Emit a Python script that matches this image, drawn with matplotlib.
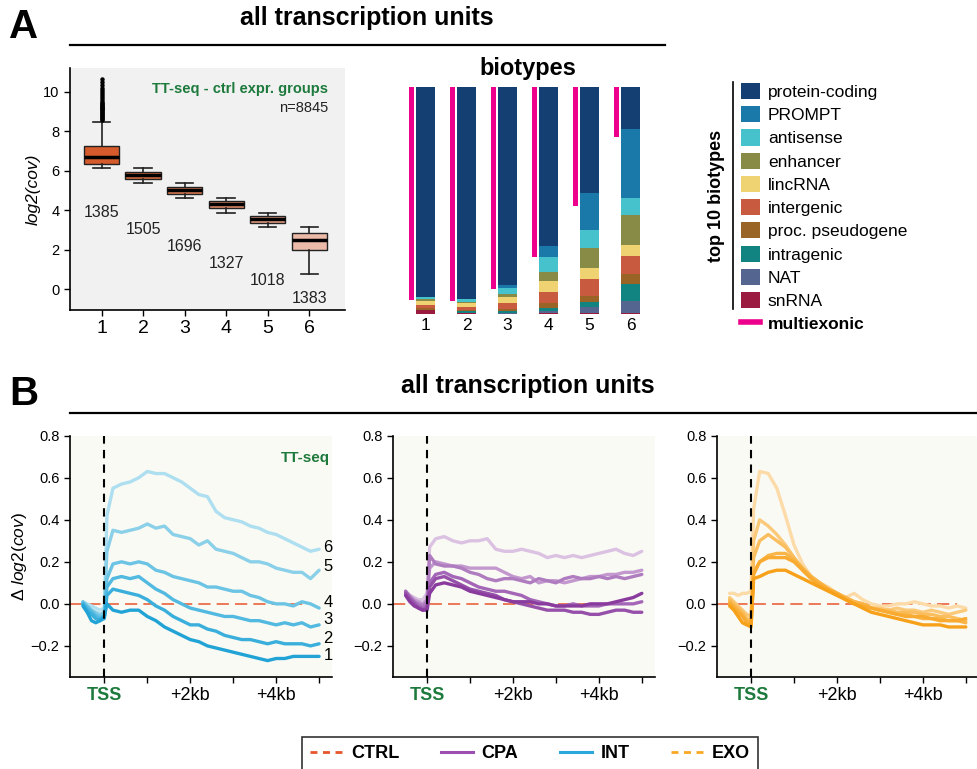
import matplotlib
matplotlib.use("Agg")
import matplotlib.pyplot as plt
from matplotlib.lines import Line2D
from matplotlib.patches import Patch

plt.rcParams['font.family'] = ['Liberation Sans', 'DejaVu Sans']
plt.rcParams['mathtext.fontset'] = 'custom'
plt.rcParams['mathtext.rm'] = 'Liberation Sans'
plt.rcParams['mathtext.it'] = 'Liberation Sans:italic'

# ---------------- data: panel A boxplot ----------------
groups = [1, 2, 3, 4, 5, 6]
group_n = [1385, 1505, 1696, 1327, 1018, 1383]
box_q1 = [6.36, 5.58, 4.81, 4.10, 3.34, 2.01]
box_med = [6.71, 5.77, 5.01, 4.30, 3.54, 2.50]
box_q3 = [7.25, 5.92, 5.19, 4.49, 3.73, 2.83]
box_lo = [6.12, 5.38, 4.64, 3.86, 3.14, 0.79]
box_hi = [8.48, 6.12, 5.36, 4.64, 3.86, 3.14]
fliers_1 = [8.55, 8.6, 8.65, 8.7, 8.75, 8.8, 8.85, 8.9, 8.95, 9.0, 9.05, 9.1,
            9.15, 9.2, 9.25, 9.3, 9.35, 9.4, 9.45, 9.5, 9.6, 9.7, 9.8, 9.9,
            10.0, 10.1, 10.2, 10.35, 10.5, 10.62]

# ---------------- data: panel A biotypes (% of units) ----------------
biotype_names = ['protein-coding', 'PROMPT', 'antisense', 'enhancer', 'lincRNA',
                 'intergenic', 'proc. pseudogene', 'intragenic', 'NAT', 'snRNA']
protein_coding = [92.4, 93.3, 87.3, 69.9, 46.9, 18.6]
prompt = [0.2, 0.1, 1.2, 5.0, 16.3, 30.4]
antisense = [0.9, 1.5, 2.6, 6.5, 7.9, 7.5]
enhancer = [0.9, 0.4, 1.3, 4.1, 8.8, 13.2]
lincrna = [1.8, 1.6, 2.6, 4.8, 4.8, 4.8]
intergenic = [1.0, 1.5, 2.9, 5.0, 7.2, 7.9]
proc_pseudogene = [0.9, 0.3, 0.9, 1.9, 2.8, 4.4]
intragenic = [0.0, 0.7, 0.7, 1.5, 2.3, 7.5]
nat = [0.0, 0.3, 0.3, 0.9, 2.6, 5.3]
snrna = [1.9, 0.3, 0.2, 0.4, 0.4, 0.4]
multiexonic = [93.8, 94.1, 89.1, 75.1, 52.5, 22.0]

# ---------------- data: panel B metagene profiles ----------------
pos_bp = [-500, -400, -300, -200, -100, 0, 60, 200, 400, 600, 800, 1000, 1200,
          1400, 1600, 1800, 2000, 2200, 2400, 2600, 2800, 3000, 3200, 3400,
          3600, 3800, 4000, 4200, 4400, 4600, 4800, 5000]
ctrl_level = 0.0
ctrl_end = 4800

int_1 = [-0.01, -0.04, -0.08, -0.09, -0.08, -0.06, 0.0, -0.03, -0.04, -0.03, -0.03, -0.06, -0.08, -0.11, -0.13, -0.15,
         -0.17, -0.18, -0.2, -0.21, -0.22, -0.23, -0.24, -0.25, -0.26, -0.27, -0.26, -0.26, -0.25, -0.25, -0.25, -0.25]
int_2 = [0.0, -0.03, -0.05, -0.07, -0.08, -0.07, 0.04, 0.07, 0.06, 0.05, 0.04, 0.02, -0.01, -0.03, -0.06, -0.08,
         -0.1, -0.1, -0.12, -0.13, -0.15, -0.16, -0.17, -0.17, -0.18, -0.19, -0.18, -0.19, -0.19, -0.19, -0.2, -0.19]
int_3 = [0.0, -0.02, -0.04, -0.06, -0.07, -0.06, 0.08, 0.12, 0.13, 0.12, 0.13, 0.1, 0.07, 0.05, 0.02, 0.0,
         -0.02, -0.03, -0.04, -0.05, -0.06, -0.06, -0.07, -0.08, -0.08, -0.09, -0.1, -0.09, -0.1, -0.09, -0.11, -0.1]
int_4 = [0.01, -0.01, -0.03, -0.05, -0.06, -0.05, 0.12, 0.19, 0.2, 0.19, 0.2, 0.19, 0.16, 0.15, 0.13, 0.12,
         0.11, 0.1, 0.08, 0.08, 0.07, 0.06, 0.06, 0.04, 0.03, 0.01, 0.0, 0.0, -0.01, 0.01, 0.0, -0.02]
int_5 = [0.0, -0.02, -0.03, -0.04, -0.05, -0.04, 0.25, 0.35, 0.34, 0.35, 0.36, 0.38, 0.36, 0.37, 0.33, 0.32,
         0.31, 0.28, 0.3, 0.26, 0.25, 0.24, 0.22, 0.2, 0.2, 0.19, 0.17, 0.16, 0.15, 0.15, 0.12, 0.16]
int_6 = [0.01, 0.0, -0.01, -0.02, -0.03, -0.02, 0.42, 0.55, 0.57, 0.58, 0.6, 0.63, 0.62, 0.62, 0.6, 0.58,
         0.55, 0.52, 0.51, 0.44, 0.41, 0.4, 0.39, 0.37, 0.36, 0.34, 0.33, 0.31, 0.29, 0.27, 0.25, 0.26]

cpa_1 = [0.04, 0.01, -0.01, -0.02, -0.03, -0.03, 0.05, 0.09, 0.1, 0.09, 0.08, 0.06, 0.05, 0.04, 0.03, 0.02,
         0.01, 0.01, 0.01, 0.0, 0.0, -0.01, -0.01, -0.01, -0.01, 0.0, 0.0, 0.0, 0.01, 0.02, 0.03, 0.05]
cpa_2 = [0.05, 0.02, 0.0, -0.02, -0.03, -0.02, 0.08, 0.12, 0.13, 0.11, 0.09, 0.07, 0.06, 0.05, 0.04, 0.02,
         0.01, 0.0, -0.01, -0.02, -0.03, -0.03, -0.03, -0.04, -0.04, -0.05, -0.05, -0.04, -0.03, -0.03, -0.04, -0.04]
cpa_3 = [0.06, 0.03, 0.01, -0.01, -0.02, -0.01, 0.1, 0.14, 0.15, 0.13, 0.12, 0.1, 0.08, 0.07, 0.06, 0.06,
         0.05, 0.04, 0.02, 0.01, 0.0, -0.01, -0.01, 0.0, -0.01, -0.01, -0.01, 0.0, 0.0, 0.0, 0.0, 0.01]
cpa_4 = [0.05, 0.03, 0.01, 0.0, -0.01, 0.01, 0.23, 0.19, 0.18, 0.18, 0.17, 0.15, 0.14, 0.12, 0.11, 0.12,
         0.12, 0.11, 0.1, 0.12, 0.11, 0.1, 0.12, 0.13, 0.12, 0.12, 0.13, 0.12, 0.13, 0.12, 0.13, 0.14]
cpa_5 = [0.06, 0.04, 0.02, 0.01, 0.0, 0.02, 0.17, 0.2, 0.19, 0.18, 0.18, 0.17, 0.17, 0.17, 0.17, 0.15,
         0.13, 0.12, 0.13, 0.1, 0.11, 0.11, 0.1, 0.11, 0.12, 0.13, 0.13, 0.14, 0.14, 0.15, 0.15, 0.16]
cpa_6 = [0.05, 0.04, 0.03, 0.02, 0.02, 0.05, 0.27, 0.31, 0.32, 0.3, 0.29, 0.3, 0.3, 0.31, 0.26, 0.25,
         0.25, 0.26, 0.25, 0.24, 0.22, 0.23, 0.22, 0.23, 0.22, 0.23, 0.24, 0.25, 0.26, 0.24, 0.23, 0.25]

exo_1 = [-0.01, -0.03, -0.06, -0.09, -0.1, -0.11, 0.12, 0.13, 0.15, 0.16, 0.16, 0.14, 0.12, 0.1, 0.08, 0.06,
         0.04, 0.02, 0.0, -0.02, -0.04, -0.05, -0.06, -0.07, -0.08, -0.09, -0.1, -0.1, -0.1, -0.11, -0.11, -0.11]
exo_2 = [0.0, -0.02, -0.04, -0.06, -0.09, -0.1, 0.14, 0.2, 0.22, 0.22, 0.22, 0.2, 0.16, 0.12, 0.09, 0.07,
         0.05, 0.02, 0.0, -0.01, -0.02, -0.03, -0.04, -0.05, -0.06, -0.06, -0.06, -0.07, -0.08, -0.08, -0.08, -0.07]
exo_3 = [0.01, -0.01, -0.03, -0.05, -0.08, -0.09, 0.15, 0.2, 0.23, 0.24, 0.24, 0.21, 0.17, 0.13, 0.1, 0.07,
         0.05, 0.03, 0.01, 0.0, -0.02, -0.03, -0.04, -0.05, -0.05, -0.06, -0.07, -0.07, -0.07, -0.08, -0.08, -0.09]
exo_4 = [0.02, 0.0, -0.02, -0.04, -0.07, -0.08, 0.22, 0.3, 0.33, 0.3, 0.27, 0.22, 0.17, 0.13, 0.1, 0.07,
         0.05, 0.03, 0.01, 0.0, -0.02, -0.03, -0.03, -0.04, -0.04, -0.04, -0.05, -0.05, -0.06, -0.06, -0.07, -0.08]
exo_5 = [0.03, 0.01, -0.01, -0.03, -0.05, -0.06, 0.3, 0.4, 0.37, 0.33, 0.28, 0.22, 0.16, 0.12, 0.1, 0.07,
         0.05, 0.03, 0.01, 0.0, -0.02, -0.02, -0.03, -0.02, -0.03, -0.03, -0.04, -0.03, -0.04, -0.05, -0.04, -0.03]
exo_6 = [0.05, 0.05, 0.04, 0.05, 0.05, 0.06, 0.45, 0.63, 0.62, 0.55, 0.42, 0.28, 0.19, 0.13, 0.1, 0.08,
         0.05, 0.03, 0.05, 0.02, 0.0, -0.01, -0.01, 0.0, 0.0, 0.01, 0.0, -0.01, -0.01, -0.02, -0.01, -0.02]

# ---------------- styling ----------------
W, H = 978, 769
GREEN = '#1d7a3c'
PINK = '#ec008c'
box_colors = ['#d55b2c', '#d96b3f', '#dd7b54', '#e18c69', '#e69e81', '#ecbaa8']
biotype_colors = ['#143f72', '#1b79aa', '#45c2cc', '#878b45', '#efd272',
                  '#c85a40', '#9a6426', '#118380', '#546590', '#9a1a40']
int_colors = ['#22a3d6', '#3aafdc', '#52b9e0', '#6bc4e4', '#8ad0e8', '#addff0']
cpa_colors = ['#8a3c9e', '#9650aa', '#a466b6', '#b07cc0', '#c398cf', '#dbc2e2']
exo_colors = ['#f7a11a', '#f8ab30', '#f9b548', '#fabe5f', '#fbc97a', '#fcdba8']


def rect(l, t, r, b):
    return [l / W, 1 - b / H, (r - l) / W, (b - t) / H]


def fx(px):
    return px / W


def fy(py):
    return 1 - py / H


fig = plt.figure(figsize=(W / 100, H / 100), dpi=100)

# ---------------- headers ----------------
narrow = ['Liberation Sans Narrow', 'Liberation Sans']
fig.text(fx(24), fy(27), 'A', fontsize=29, weight='bold', ha='center', va='center')
fig.text(fx(367), fy(18), 'all transcription units', family=narrow, fontsize=18,
         weight='bold', ha='center', va='center')
fig.add_artist(Line2D([fx(70), fx(665)], [fy(45), fy(45)], transform=fig.transFigure,
                      color='black', lw=1.6))
fig.text(fx(24), fy(394), 'B', fontsize=29, weight='bold', ha='center', va='center')
fig.text(fx(528), fy(386), 'all transcription units', family=narrow, fontsize=18,
         weight='bold', ha='center', va='center')
fig.add_artist(Line2D([fx(70), fx(978)], [fy(413), fy(413)], transform=fig.transFigure,
                      color='black', lw=1.6))

# ---------------- A: boxplot ----------------
ax = fig.add_axes(rect(70, 68, 345, 310))
ax.set_facecolor('#f1f1f1')
stats = []
for k in range(len(groups)):
    stats.append(dict(med=box_med[k], q1=box_q1[k], q3=box_q3[k],
                      whislo=box_lo[k], whishi=box_hi[k],
                      fliers=fliers_1 if k == 0 else []))
bp = ax.bxp(stats, positions=groups, widths=0.85, capwidths=0.42, patch_artist=True,
            boxprops=dict(lw=1.0, edgecolor='#222222'),
            medianprops=dict(color='black', lw=2.5),
            whiskerprops=dict(color='#222222', lw=1.2),
            capprops=dict(color='#222222', lw=1.2),
            flierprops=dict(marker='o', ms=2.2, mfc='black', mec='black'))
for patch, c in zip(bp['boxes'], box_colors):
    patch.set_facecolor(c)
for k, n in enumerate(group_n):
    ax.text(groups[k], 3.9 - 0.87 * k, str(n), ha='center', va='center', fontsize=11.5,
            color='#222222')
ax.text(6.45, 10.14, 'TT-seq - ctrl expr. groups', ha='right', va='center',
        fontsize=10.5, weight='bold', color=GREEN)
ax.text(6.45, 9.18, 'n=8845', ha='right', va='center', fontsize=10.5, color='#222222')
ax.set_xlim(0.24, 6.86)
ax.set_ylim(-1.05, 11.2)
ax.set_yticks([0, 2, 4, 6, 8, 10])
ax.set_xticks(groups)
ax.set_xticklabels([str(g) for g in groups])
ax.tick_params(axis='x', labelsize=14, length=4, width=1)
ax.tick_params(axis='y', labelsize=10.5, length=4, width=1)
for s in ['top', 'right']:
    ax.spines[s].set_visible(False)
for s in ['left', 'bottom']:
    ax.spines[s].set_linewidth(1.2)
ax.set_ylabel('log2(cov)', fontsize=12.5, style='italic', labelpad=2)

# ---------------- A: biotypes ----------------
axb = fig.add_axes(rect(395, 86.7, 660, 314))
stack = [snrna, nat, intragenic, proc_pseudogene, intergenic, lincrna,
         enhancer, antisense, prompt, protein_coding]
stack_colors = biotype_colors[::-1]
bottoms = [0.0] * len(groups)
for vals, c in zip(stack, stack_colors):
    axb.bar(groups, vals, bottom=bottoms, width=0.46, color=c, linewidth=0)
    bottoms = [b + v for b, v in zip(bottoms, vals)]
axb.bar([g - 0.35 for g in groups], multiexonic, bottom=[100 - m for m in multiexonic],
        width=0.12, color=PINK, linewidth=0)
axb.set_xlim(0.256, 6.72)
axb.set_ylim(0, 100)
axb.set_xticks(groups)
axb.set_xticklabels([str(g) for g in groups])
axb.tick_params(axis='x', length=0, labelsize=12.5, pad=3)
axb.set_yticks([])
for s in axb.spines.values():
    s.set_visible(False)
fig.text(fx(528), fy(68), 'biotypes', fontsize=17, weight='bold', ha='center', va='center')

# legend for biotypes
handles = [Patch(facecolor=c, edgecolor='none') for c in biotype_colors]
handles.append(Line2D([], [], color=PINK, lw=4))
leg = fig.legend(handles, biotype_names + ['multiexonic'], loc='upper left',
                 bbox_to_anchor=(fx(741), fy(83)), frameon=False, fontsize=12.5,
                 handlelength=1.1, handleheight=1.05, handletextpad=0.45,
                 labelspacing=0.36, borderpad=0, borderaxespad=0)
leg.get_texts()[-1].set_fontweight('bold')
fig.add_artist(Line2D([fx(733), fx(733)], [fy(82), fy(309)], transform=fig.transFigure,
                      color='black', lw=1.2))
fig.text(fx(717), fy(196), 'top 10 biotypes', rotation=90, fontsize=13, weight='bold',
         ha='center', va='center')

# ---------------- B: metagene panels ----------------
panels = [
    (70, [int_1, int_2, int_3, int_4, int_5, int_6], int_colors),
    (392.7, [cpa_1, cpa_2, cpa_3, cpa_4, cpa_5, cpa_6], cpa_colors),
    (716.7, [exo_1, exo_2, exo_3, exo_4, exo_5, exo_6], exo_colors),
]
XL = (-800, 5300)
for k, (left, series, colors) in enumerate(panels):
    axp = fig.add_axes(rect(left, 435.7, left + 262, 677))
    axp.set_facecolor('#fafaf4')
    axp.hlines(ctrl_level, XL[0], ctrl_end, color='#e8552d', lw=1.1,
               linestyles=(0, (8, 4)), zorder=1)
    for vals, c in list(zip(series, colors))[::-1]:
        axp.plot(pos_bp, vals, color=c, lw=2.4, solid_capstyle='round', zorder=2)
    axp.axvline(0, color='black', lw=1.5, dashes=(4, 3), zorder=3)
    axp.set_xlim(*XL)
    axp.set_ylim(-0.348, 0.8)
    axp.set_yticks([-0.2, 0.0, 0.2, 0.4, 0.6, 0.8])
    axp.set_yticklabels(['\u22120.2', '0.0', '0.2', '0.4', '0.6', '0.8'])
    axp.set_xticks([0, 1000, 2000, 3000, 4000, 5000])
    axp.set_xticklabels(['TSS', '', '+2kb', '', '+4kb', ''])
    tl = axp.get_xticklabels()[0]
    tl.set_color(GREEN)
    tl.set_fontweight('bold')
    axp.tick_params(axis='x', labelsize=13, length=4, width=1, pad=3)
    axp.tick_params(axis='y', labelsize=10.5, length=4, width=1)
    for s in ['top', 'right']:
        axp.spines[s].set_visible(False)
    for s in ['left', 'bottom']:
        axp.spines[s].set_linewidth(1.2)
    if k == 0:
        axp.set_ylabel(r'$\Delta\ \mathit{log2(cov)}$', fontsize=12.5, labelpad=1)
        axp.text(5250, 0.695, 'TT-seq', ha='right', va='center', fontsize=11,
                 weight='bold', color=GREEN)
        end_label_y = [-0.248, -0.163, -0.076, 0.006, 0.178, 0.27]
        for j, yv in enumerate(end_label_y):
            axp.text(5210, yv, str(j + 1), ha='center', va='center', fontsize=12,
                     clip_on=False)

# ---------------- bottom legend ----------------
lh = [Line2D([], [], color='#e8552d', lw=2, ls=(0, (2.5, 2))),
      Line2D([], [], color='#9b4fb0', lw=2.2),
      Line2D([], [], color='#2aa8dc', lw=2.2),
      Line2D([], [], color='#f9a825', lw=2, ls=(0, (2.5, 2)))]
lg = fig.legend(lh, ['CTRL', 'CPA', 'INT', 'EXO'], loc='center',
                bbox_to_anchor=(fx(530), fy(754)), ncol=4,
                prop=dict(weight='bold', size=13), frameon=True, fancybox=False,
                edgecolor='black', handlelength=1.8, handletextpad=0.45,
                columnspacing=2.3, borderpad=0.45)
lg.get_frame().set_linewidth(1.2)

fig.savefig('out.png', dpi=100)
